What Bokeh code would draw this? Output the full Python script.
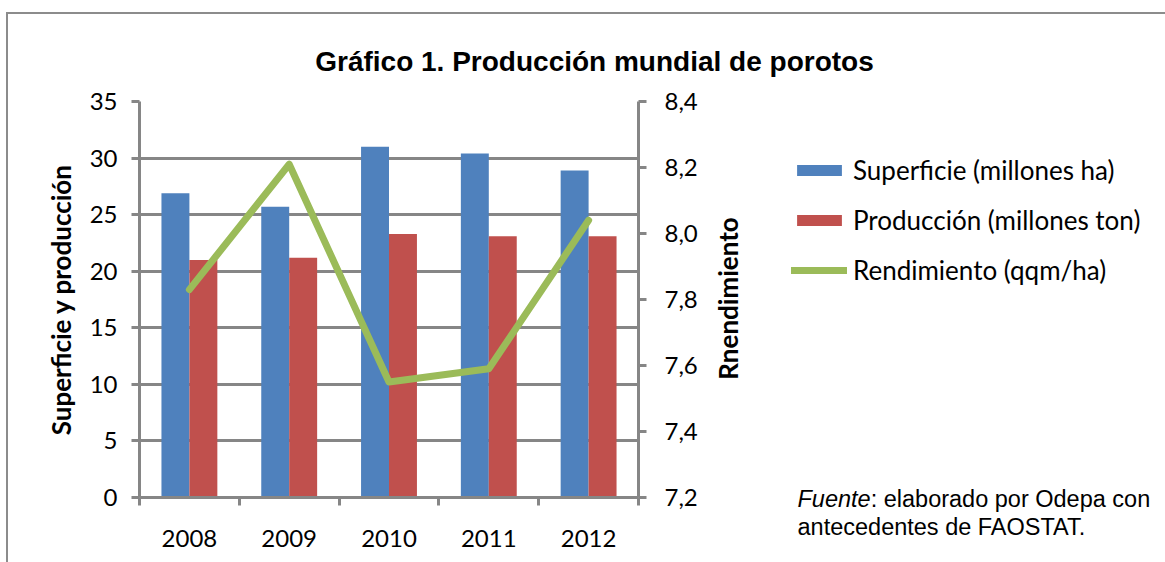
import math
from bokeh.plotting import figure
from bokeh.layouts import column, row
from bokeh.models import (Range1d, LinearAxis, FixedTicker, CustomJSTickFormatter,
                          Legend, LegendItem, Label, ColumnDataSource, InlineStyleSheet)
from bokeh.transform import dodge
from bokeh.embed import file_html
from bokeh.resources import INLINE

# ---- data ----
years = [2008, 2009, 2010, 2011, 2012]
superficie = [26.9, 25.7, 31.0, 30.4, 28.9]      # millones ha
produccion = [21.0, 21.2, 23.3, 23.1, 23.1]      # millones ton
rendimiento = [7.83, 8.21, 7.55, 7.59, 8.04]     # qqm/ha
left_ticks = [0, 5, 10, 15, 20, 25, 30, 35]
right_ticks = [7.2, 7.4, 7.6, 7.8, 8.0, 8.2, 8.4]

title_text = "Gráfico 1. Producción mundial de porotos"
left_label = "Superficie y producción"
right_label = "Rnendimiento"
legend_labels = ["Superficie (millones ha)", "Producción (millones ton)", "Rendimiento (qqm/ha)"]
fuente_italic = "Fuente"
fuente_rest = ": elaborado por Odepa con"
fuente_line2 = "antecedentes de FAOSTAT."

BLUE = "#4F81BD"
RED = "#C0504D"
GREEN = "#9BBB59"
GRAY = "#868686"
FONT = "Lato"
ARIAL = "Liberation Sans"

W, H = 1165, 562
TOP_H = 80                       # height of the title strip
FL, FR, FT, FB = 139, 638, 101, 497   # plot frame edges (page pixels)
MAIN_W = 704
SIDE_W = W - MAIN_W
BODY_H = H - TOP_H


def no_align(f):
    if hasattr(f, "frame_align"):
        f.frame_align = False
    return f


def blank(width, height):
    f = figure(width=width, height=height, output_backend="svg", toolbar_location=None,
               x_axis_location=None, y_axis_location=None,
               x_range=Range1d(0, width), y_range=Range1d(0, height),
               min_border=0, min_border_left=0, min_border_right=0,
               min_border_top=0, min_border_bottom=0)
    f.outline_line_color = None
    f.grid.visible = False
    f.title.visible = False
    f.background_fill_color = "white"
    f.border_fill_color = "white"
    return no_align(f)


# ---------------- title strip ----------------
p_top = blank(W, TOP_H)
p_top.add_layout(Label(x=594, y=TOP_H - 61, x_units="screen", y_units="screen", text=title_text,
                       text_align="center", text_baseline="alphabetic",
                       text_font=ARIAL, text_font_style="bold", text_font_size="28px",
                       text_color="black"))

# ---------------- main chart ----------------
src = ColumnDataSource(dict(year=years, sup=superficie, prod=produccion, rend=rendimiento))

p = figure(width=MAIN_W, height=BODY_H, output_backend="svg", toolbar_location=None,
           x_range=Range1d(2007.5, 2012.5), y_range=Range1d(0, 35),
           min_border_left=FL, min_border_right=MAIN_W - FR,
           min_border_top=FT - TOP_H, min_border_bottom=H - FB)
no_align(p)
p.outline_line_color = None
p.title.visible = False
p.background_fill_color = "white"
p.border_fill_color = "white"
p.extra_y_ranges = {"r": Range1d(7.2, 8.4)}

xa = p.xaxis[0]
xa.ticker = FixedTicker(ticks=years, minor_ticks=[2007.5, 2008.5, 2009.5, 2010.5, 2011.5, 2012.5])
xa.major_tick_out = 0
xa.major_tick_in = 0
xa.minor_tick_out = 8
xa.minor_tick_in = 0
xa.minor_tick_line_color = GRAY
xa.minor_tick_line_width = 3
xa.axis_line_color = GRAY
xa.axis_line_width = 3
xa.major_label_text_font = FONT
xa.major_label_text_font_size = "24px"
xa.major_label_text_color = "black"
xa.major_label_standoff = 24

ya = p.yaxis[0]
ya.ticker = FixedTicker(ticks=left_ticks)
ya.minor_tick_out = 0
ya.minor_tick_in = 0
ya.major_tick_out = 8
ya.major_tick_in = 0
ya.major_tick_line_color = GRAY
ya.major_tick_line_width = 3
ya.axis_line_color = GRAY
ya.axis_line_width = 3
ya.major_label_text_font = FONT
ya.major_label_text_font_size = "24px"
ya.major_label_text_color = "black"
ya.major_label_standoff = 14
ya.axis_label = left_label
ya.axis_label_text_font = FONT
ya.axis_label_text_font_style = "bold"
ya.axis_label_text_font_size = "26px"
ya.axis_label_text_color = "black"
ya.axis_label_standoff = 10

ra = LinearAxis(y_range_name="r", ticker=FixedTicker(ticks=right_ticks),
                formatter=CustomJSTickFormatter(code="return tick.toFixed(1).replace('.', ',');"))
ra.minor_tick_out = 0
ra.minor_tick_in = 0
ra.major_tick_out = 8
ra.major_tick_in = 0
ra.major_tick_line_color = GRAY
ra.major_tick_line_width = 3
ra.axis_line_color = GRAY
ra.axis_line_width = 3
ra.major_label_text_font = FONT
ra.major_label_text_font_size = "24px"
ra.major_label_text_color = "black"
ra.major_label_standoff = 18
p.add_layout(ra, "right")

p.xgrid.visible = False
p.ygrid.ticker = FixedTicker(ticks=left_ticks)
p.ygrid.grid_line_color = GRAY
p.ygrid.grid_line_width = 3

bar_w = 0.28
vb1 = p.vbar(x=dodge("year", -bar_w / 2, range=p.x_range), top="sup", width=bar_w, bottom=0,
             source=src, fill_color=BLUE, line_color=None)
vb2 = p.vbar(x=dodge("year", bar_w / 2, range=p.x_range), top="prod", width=bar_w, bottom=0,
             source=src, fill_color=RED, line_color=None)
ln = p.line(x="year", y="rend", source=src, y_range_name="r", line_color=GREEN,
            line_width=7, line_cap="round", line_join="round")

# ---------------- side area: right-axis title, legend, source note ----------------
p_side = blank(SIDE_W, BODY_H)
# legend swatches styled like the series (one NaN row each, so nothing is plotted)
nan = float("nan")
g1 = p_side.vbar(x=[nan], top=[nan], width=1, fill_color=BLUE, line_color=None)
g2 = p_side.vbar(x=[nan], top=[nan], width=1, fill_color=RED, line_color=None)
g3 = p_side.line(x=[nan], y=[nan], line_color=GREEN, line_width=7, line_cap="round")

legend = Legend(items=[LegendItem(label=legend_labels[0], renderers=[g1]),
                       LegendItem(label=legend_labels[1], renderers=[g2]),
                       LegendItem(label=legend_labels[2], renderers=[g3])],
                location=(791 - MAIN_W, H - 286), orientation="vertical",
                glyph_width=56, glyph_height=14, label_standoff=6,
                label_height=31, spacing=18, padding=0, margin=0,
                border_line_alpha=0, background_fill_alpha=0,
                label_text_font=FONT, label_text_font_size="26px", label_text_color="black")
p_side.add_layout(legend, "center")

p_side.add_layout(Label(x=727 - MAIN_W, y=H - 298, x_units="screen", y_units="screen",
                        text=right_label, angle=math.pi / 2,
                        text_align="center", text_baseline="middle",
                        text_font=FONT, text_font_style="bold", text_font_size="26px",
                        text_color="black"))

FN = 23.5
fuente_w = 3.113 * FN
for txt, px, py, style in [(fuente_italic, 797, 498, "italic"),
                           (fuente_rest, 797 + fuente_w, 498, "normal"),
                           (fuente_line2, 797, 526, "normal")]:
    p_side.add_layout(Label(x=px - MAIN_W, y=H - py, x_units="screen", y_units="screen",
                            text=txt, text_align="left", text_baseline="alphabetic",
                            text_font=ARIAL, text_font_style=style,
                            text_font_size=f"{FN}px", text_color="black"))

layout = column(p_top, row(p, p_side))
layout.stylesheets = [InlineStyleSheet(css="""
:host::after {
  content: "";
  position: absolute;
  left: 6px; top: 12px;
  width: calc(100% - 6px); height: calc(100% - 12px);
  border-left: 2px solid #8C8C8C; border-top: 2px solid #8C8C8C;
  box-sizing: border-box;
  pointer-events: none;
}
""")]

open("out.html", "w").write(file_html(layout, INLINE))
